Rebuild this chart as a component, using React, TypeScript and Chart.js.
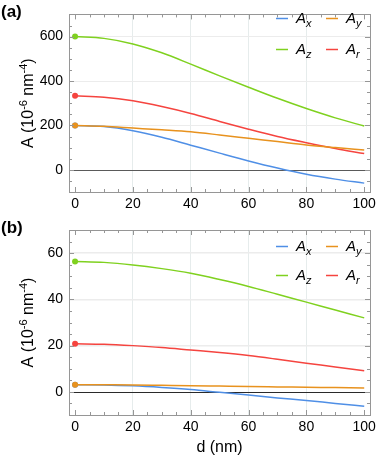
import React, { useEffect, useRef } from "react";
import { Chart, registerables } from "chart.js";

Chart.register(...registerables);

// ---- data ----
const dValues = [0, 10, 20, 30, 40, 50, 60, 70, 80, 90, 100];
const xTickValues = [0, 20, 40, 60, 80, 100];

const aAx = [200, 195, 176, 147, 111, 75, 40, 8, -20, -42, -60];
const aAy = [200, 196, 188, 180, 171, 157, 142, 127, 112, 100, 89];
const aAz = [600, 592, 567, 527, 476, 423, 372, 322, 276, 234, 197];
const aAr = [333, 327, 311, 285, 254, 218, 183, 150, 122, 96, 73];
const aYTicks = [0, 200, 400, 600];

const bAx = [3.1, 3.0, 2.6, 1.9, 1.0, -0.2, -1.4, -2.6, -3.7, -5.0, -6.2];
const bAy = [3.1, 3.05, 3.0, 2.85, 2.7, 2.5, 2.3, 2.15, 2.0, 1.85, 1.7];
const bAz = [56.4, 56.0, 54.9, 53.3, 51.3, 48.6, 45.6, 42.2, 38.8, 35.4, 32.0];
const bAr = [20.8, 20.6, 20.0, 19.2, 18.1, 17.0, 15.7, 14.1, 12.4, 10.8, 9.1];
const bYTicks = [0, 20, 40, 60];

const seriesSubs = ["x", "y", "z", "r"];
const colors = ["#4f8fe6", "#e8921e", "#7fd11f", "#f5443f"];

const FONT = "'Liberation Sans', Arial, sans-serif";

type PanelCfg = {
  label: string;
  series: number[][];
  yMin: number;
  yMax: number;
  yTicks: number[];
  yMinor: number;
  height: number;
  padTop: number;
  xAxisHeight: number;
  gridWidth: number;
  zeroColor: string;
  showXTitle: boolean;
  legendRows: number[];
  titleY: number;
};

const panels: PanelCfg[] = [
  {
    label: "(a)",
    series: [aAx, aAy, aAz, aAr],
    yMin: -100,
    yMax: 700,
    yTicks: aYTicks,
    yMinor: 50,
    height: 215,
    padTop: 5,
    xAxisHeight: 23,
    gridWidth: 1,
    zeroColor: "#5a5a5a",
    showXTitle: false,
    legendRows: [18, 49],
    titleY: 12,
  },
  {
    label: "(b)",
    series: [bAx, bAy, bAz, bAr],
    yMin: -10,
    yMax: 70,
    yTicks: bYTicks,
    yMinor: 5,
    height: 255,
    padTop: 15,
    xAxisHeight: 55,
    gridWidth: 1.5,
    zeroColor: "#2a2a2a",
    showXTitle: true,
    legendRows: [31, 60],
    titleY: 13,
  },
];

function makePlugin(p: PanelCfg) {
  return {
    id: "decor",
    beforeDatasetsDraw(chart: any) {
      const { ctx, chartArea, scales } = chart;
      const y0 = scales.y.getPixelForValue(0);
      ctx.save();
      ctx.strokeStyle = p.zeroColor;
      ctx.lineWidth = 1;
      ctx.beginPath();
      ctx.moveTo(chartArea.left, Math.round(y0) + 0.5);
      ctx.lineTo(chartArea.right, Math.round(y0) + 0.5);
      ctx.stroke();
      ctx.restore();
    },
    afterDraw(chart: any) {
      const { ctx, chartArea, scales } = chart;
      const { left, right, top, bottom } = chartArea;
      ctx.save();
      // frame
      ctx.strokeStyle = "#969696";
      ctx.lineWidth = 1;
      ctx.strokeRect(Math.round(left) + 0.5, Math.round(top) + 0.5, Math.round(right - left), Math.round(bottom - top));
      // ticks inward
      ctx.beginPath();
      for (let v = 0; v <= 100; v += 5) {
        const x = Math.round(scales.x.getPixelForValue(v)) + 0.5;
        const len = v % 20 === 0 ? 5 : 3;
        ctx.moveTo(x, bottom);
        ctx.lineTo(x, bottom - len);
        ctx.moveTo(x, top);
        ctx.lineTo(x, top + len);
      }
      const startY = Math.ceil(p.yMin / p.yMinor) * p.yMinor;
      const major = p.yTicks[1] - p.yTicks[0];
      for (let v = startY; v <= p.yMax; v += p.yMinor) {
        const y = Math.round(scales.y.getPixelForValue(v)) + 0.5;
        const len = Math.abs(v % major) < 1e-9 ? 5 : 3;
        ctx.moveTo(left, y);
        ctx.lineTo(left + len, y);
        ctx.moveTo(right, y);
        ctx.lineTo(right - len, y);
      }
      ctx.stroke();

      // panel label
      ctx.fillStyle = "#000";
      ctx.font = `bold 17px ${FONT}`;
      ctx.textBaseline = "middle";
      ctx.textAlign = "left";
      ctx.fillText(p.label, 1, p.titleY);

      // y title
      const cy = (top + bottom) / 2;
      ctx.save();
      ctx.translate(27, cy);
      ctx.rotate(-Math.PI / 2);
      const parts: [string, boolean][] = [
        ["A (10", false],
        ["-6", true],
        [" nm", false],
        ["-4", true],
        [")", false],
      ];
      const big = `16px ${FONT}`;
      const small = `11px ${FONT}`;
      let total = 0;
      for (const [t, sup] of parts) {
        ctx.font = sup ? small : big;
        total += ctx.measureText(t).width;
      }
      let xx = -total / 2;
      ctx.textBaseline = "alphabetic";
      for (const [t, sup] of parts) {
        ctx.font = sup ? small : big;
        ctx.fillText(t, xx, sup ? 0 : 6);
        xx += ctx.measureText(t).width;
      }
      ctx.restore();

      // x title
      if (p.showXTitle) {
        ctx.font = `16px ${FONT}`;
        ctx.textAlign = "center";
        ctx.textBaseline = "middle";
        ctx.fillText("d (nm)", (left + right) / 2, 233);
      }

      // legend
      const cols = [276, 326];
      for (let i = 0; i < 4; i++) {
        const lx = cols[i % 2];
        const ly = p.legendRows[Math.floor(i / 2)];
        ctx.strokeStyle = colors[i];
        ctx.lineWidth = 1.5;
        ctx.beginPath();
        ctx.moveTo(lx, ly + 0.5);
        ctx.lineTo(lx + 12, ly + 0.5);
        ctx.stroke();
        ctx.fillStyle = "#000";
        ctx.textAlign = "left";
        ctx.textBaseline = "alphabetic";
        ctx.font = `italic 15px ${FONT}`;
        ctx.fillText("A", lx + 20, ly + 5);
        const w = ctx.measureText("A").width;
        ctx.font = `italic 11px ${FONT}`;
        ctx.fillText(seriesSubs[i], lx + 20 + w, ly + 9);
      }
      ctx.restore();
    },
  };
}

function Panel({ p, top }: { p: PanelCfg; top: number }) {
  const ref = useRef<HTMLCanvasElement | null>(null);
  useEffect(() => {
    if (!ref.current) return;
    const order = [1, 0, 2, 3];
    const chart = new Chart(ref.current, {
      type: "line",
      data: {
        datasets: p.series.map((s, i) => ({
          label: "A" + seriesSubs[i],
          data: dValues.map((d, j) => ({ x: d, y: s[j] })),
          borderColor: colors[i],
          backgroundColor: colors[i],
          borderWidth: 1.5,
          cubicInterpolationMode: "monotone" as const,
          pointRadius: (c: any) => (c.dataIndex === 0 ? 3 : 0),
          pointBorderWidth: 0,
          order: order[i],
        })),
      },
      options: {
        animation: false,
        responsive: false,
        maintainAspectRatio: false,
        layout: { padding: { top: p.padTop, right: 11, left: 0, bottom: 0 } },
        plugins: { legend: { display: false }, tooltip: { enabled: false } },
        scales: {
          x: {
            type: "linear",
            min: -2.1,
            max: 102,
            afterBuildTicks: (s: any) => {
              s.ticks = xTickValues.map((v) => ({ value: v }));
            },
            afterFit: (s: any) => {
              s.height = p.xAxisHeight;
            },
            grid: {
              drawTicks: false,
              lineWidth: 1,
              color: (c: any) =>
                c.tick && (c.tick.value === 0 || c.tick.value === 100) ? "rgba(0,0,0,0)" : "#e6ecec",
            },
            border: { display: false },
            ticks: {
              padding: 4,
              maxRotation: 0,
              color: "#000",
              font: { family: FONT, size: 14 },
              callback: (v: any) => String(v),
            },
          },
          y: {
            type: "linear",
            min: p.yMin,
            max: p.yMax,
            afterBuildTicks: (s: any) => {
              s.ticks = p.yTicks.map((v) => ({ value: v }));
            },
            afterFit: (s: any) => {
              s.width = 69;
            },
            grid: {
              drawTicks: false,
              lineWidth: p.gridWidth,
              color: (c: any) => (c.tick && c.tick.value === 0 ? "rgba(0,0,0,0)" : "#ececec"),
            },
            border: { display: false },
            ticks: {
              padding: 6,
              color: "#000",
              font: { family: FONT, size: 14 },
              callback: (v: any) => String(v),
            },
          },
        },
      },
      plugins: [makePlugin(p)],
    } as any);
    return () => chart.destroy();
  }, [p]);
  return (
    <canvas
      ref={ref}
      width={381}
      height={p.height}
      style={{ position: "absolute", left: 0, top, width: 381, height: p.height, display: "block" }}
    />
  );
}

export default function App() {
  return (
    <div style={{ position: "fixed", left: 0, top: 0, width: 381, height: 470, background: "#fff" }}>
      <Panel p={panels[0]} top={0} />
      <Panel p={panels[1]} top={215} />
    </div>
  );
}
